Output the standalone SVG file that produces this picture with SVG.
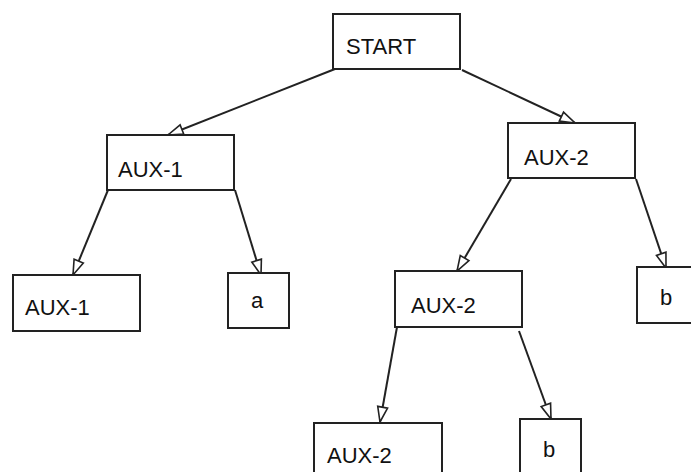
<svg xmlns="http://www.w3.org/2000/svg" width="691" height="472" viewBox="0 0 691 472">
  <style>
    .box { fill: #ffffff; stroke: #222222; stroke-width: 2; }
    .lbl { font-family: "Liberation Sans", Arial, sans-serif; font-size: 22px; fill: #111111; }
    .edge { stroke: #222222; stroke-width: 2; fill: none; marker-end: url(#open-arrow); }
  </style>
  <defs>
    <marker id="open-arrow" markerUnits="userSpaceOnUse" markerWidth="18" markerHeight="12" refX="16" refY="6" orient="auto" overflow="visible">
      <path d="M1,1 L16,6 L1,11 Z" fill="#ffffff" stroke="#222222" stroke-width="1.6" stroke-linejoin="miter"/>
    </marker>
  </defs>

  <rect width="691" height="472" fill="#ffffff"/>

  <g id="connectors">
    <line class="edge" x1="335" y1="69" x2="168" y2="135"/>
    <line class="edge" x1="462" y1="70" x2="575" y2="123"/>
    <line class="edge" x1="108" y1="190" x2="73" y2="275"/>
    <line class="edge" x1="235" y1="190" x2="261" y2="275"/>
    <line class="edge" x1="511" y1="179" x2="457" y2="271"/>
    <line class="edge" x1="636" y1="179" x2="666" y2="268"/>
    <line class="edge" x1="397" y1="327" x2="380" y2="422"/>
    <line class="edge" x1="519" y1="331" x2="551" y2="419"/>
  </g>

  <g id="start">
    <rect class="box" x="333" y="14" width="127" height="55"/>
    <text class="lbl" x="346" y="54">START</text>
  </g>
  <g id="aux1-top">
    <rect class="box" x="107" y="135" width="127" height="55"/>
    <text class="lbl" x="118" y="177">AUX-1</text>
  </g>
  <g id="aux2-top">
    <rect class="box" x="508" y="123" width="127" height="55"/>
    <text class="lbl" x="524" y="165">AUX-2</text>
  </g>
  <g id="aux1-leaf">
    <rect class="box" x="13" y="275" width="127" height="56"/>
    <text class="lbl" x="25" y="315">AUX-1</text>
  </g>
  <g id="a-leaf">
    <rect class="box" x="228" y="273" width="61" height="55"/>
    <text class="lbl" x="251" y="308">a</text>
  </g>
  <g id="aux2-mid">
    <rect class="box" x="395" y="271" width="127" height="56"/>
    <text class="lbl" x="411" y="313">AUX-2</text>
  </g>
  <g id="b-right">
    <rect class="box" x="637" y="267" width="70" height="56"/>
    <text class="lbl" x="660" y="305">b</text>
  </g>
  <g id="aux2-bottom">
    <rect class="box" x="314" y="423" width="128" height="62"/>
    <text class="lbl" x="327" y="463">AUX-2</text>
  </g>
  <g id="b-bottom">
    <rect class="box" x="520" y="419" width="61" height="62"/>
    <text class="lbl" x="543" y="457">b</text>
  </g>
</svg>
